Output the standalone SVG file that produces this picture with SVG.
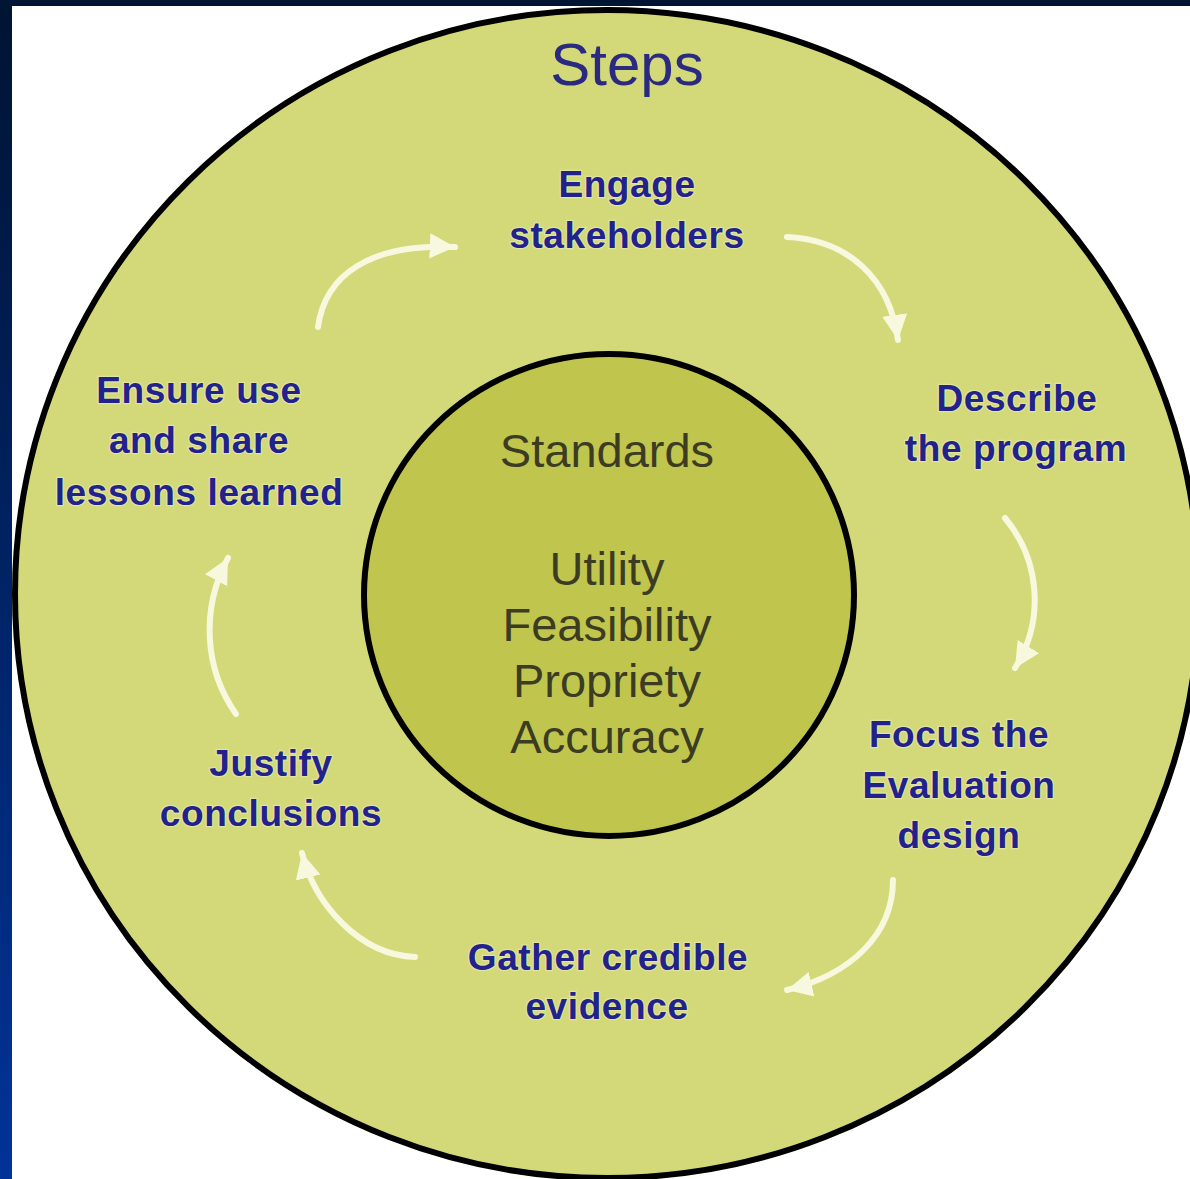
<svg xmlns="http://www.w3.org/2000/svg" width="1190" height="1179" viewBox="0 0 1190 1179">
<defs>
<linearGradient id="bg" x1="0" y1="0" x2="0" y2="1">
<stop offset="0" stop-color="#001433"/>
<stop offset="1" stop-color="#003399"/>
</linearGradient>
<marker id="head" viewBox="0 0 10 10" refX="10" refY="5" markerWidth="4.2" markerHeight="4.6" orient="auto" markerUnits="strokeWidth">
<path d="M0,0 L10,5 L0,10 Z" fill="#f8f8de"/>
</marker>
<style>
.step{font-family:"Liberation Sans",Arial,sans-serif;font-weight:bold;font-size:37px;fill:#22228c;text-anchor:middle;letter-spacing:0.6px;stroke:#eef0c0;stroke-width:2.5px;stroke-opacity:0.55;paint-order:stroke}
.std{font-family:"Liberation Sans",Arial,sans-serif;font-size:47px;fill:#3c3c22;text-anchor:middle}
.arrow{fill:none;stroke:#f8f8de;stroke-width:6;stroke-linecap:round;marker-end:url(#head)}
</style>
</defs>
<rect x="0" y="0" width="1190" height="1179" fill="url(#bg)"/>
<rect x="12" y="6" width="1178" height="1173" fill="#ffffff"/>
<g id="outer">
<ellipse cx="607" cy="594" rx="592" ry="584" fill="#d3d878" stroke="#000000" stroke-width="6"/>
<text x="627" y="85" font-family="Liberation Sans, Arial, sans-serif" font-size="60" fill="#2a2a80" text-anchor="middle">Steps</text>
</g>
<g id="standards">
<ellipse cx="609" cy="595" rx="245" ry="241" fill="#c0c54e" stroke="#000000" stroke-width="6"/>
<text class="std" x="607" y="467" font-size="51">Standards</text>
<text class="std" x="607" y="585">Utility</text>
<text class="std" x="607" y="641">Feasibility</text>
<text class="std" x="607" y="697">Propriety</text>
<text class="std" x="607" y="753">Accuracy</text>
</g>
<g id="connectors">
<path class="arrow" d="M318,327 C325,275 370,243 455,247"/>
<path class="arrow" d="M787,237 C850,240 890,280 898,340"/>
<path class="arrow" d="M1005,518 C1040,560 1045,620 1015,668"/>
<path class="arrow" d="M893,880 C893,935 850,975 787,990"/>
<path class="arrow" d="M415,957 C360,955 315,905 302,853"/>
<path class="arrow" d="M236,714 C205,670 200,610 228,558"/>
</g>
<g id="engage">
<text class="step" x="627" y="197">Engage</text>
<text class="step" x="627" y="248">stakeholders</text>
</g>
<g id="describe">
<text class="step" x="1017" y="411">Describe</text>
<text class="step" x="1016" y="461">the program</text>
</g>
<g id="focus">
<text class="step" x="959" y="747">Focus the</text>
<text class="step" x="959" y="798">Evaluation</text>
<text class="step" x="959" y="848">design</text>
</g>
<g id="gather">
<text class="step" x="608" y="970">Gather credible</text>
<text class="step" x="607" y="1019">evidence</text>
</g>
<g id="justify">
<text class="step" x="271" y="776">Justify</text>
<text class="step" x="271" y="826">conclusions</text>
</g>
<g id="ensure">
<text class="step" x="199" y="403">Ensure use</text>
<text class="step" x="199" y="453">and share</text>
<text class="step" x="199" y="505">lessons learned</text>
</g>
</svg>
